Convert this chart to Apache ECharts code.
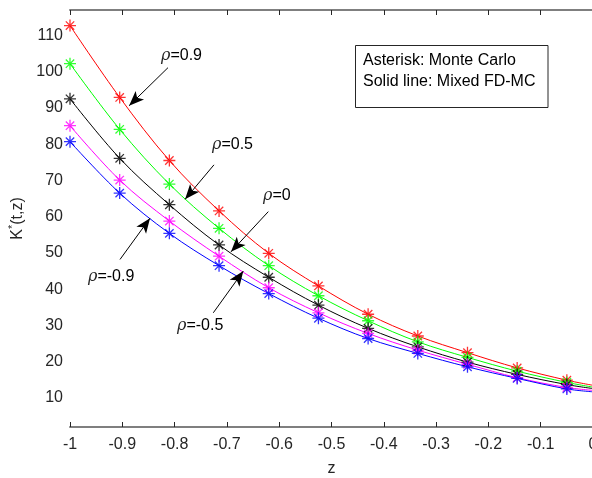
<!DOCTYPE html>
<html>
<head>
<meta charset="utf-8">
<script src="https://cdn.jsdelivr.net/npm/echarts@6/dist/echarts.min.js"></script>
<style>html,body{margin:0;padding:0;background:#fff;}#c{width:592px;height:478px;}</style>
</head>
<body>
<div id="c"></div>
<script>
// z positions of the Monte Carlo points
const zPts = [-1, -0.905, -0.81, -0.715, -0.62, -0.525, -0.43, -0.335, -0.24, -0.145, -0.05];
// values per rho (Monte Carlo asterisks)
const rho09 = [112.7, 92.9, 75.5, 61.6, 49.9, 40.9, 33.1, 27.1, 22.5, 18.3, 14.9];
const rho05 = [102.2, 84.1, 69.0, 56.8, 46.5, 38.2, 31.3, 25.5, 21.2, 17.4, 14.3];
const rho0 = [92.5, 76.1, 63.3, 52.2, 43.3, 35.6, 29.2, 24.1, 19.9, 16.5, 13.7];
const rhoM05 = [85.1, 70.1, 58.8, 49.1, 40.4, 33.5, 27.8, 23.2, 19.3, 15.6, 12.9];
const rhoM09 = [80.7, 66.5, 55.4, 46.5, 38.8, 32.0, 26.4, 22.3, 18.6, 15.4, 12.5];
// Mixed FD-MC line values at z = 0
const endZ = 0;
const endVals = [13.5, 13.0, 12.6, 12.1, 11.7];
const yTicks = [10, 20, 30, 40, 50, 60, 70, 80, 90, 100, 110];
const seriesNames = ['rho=0.9', 'rho=0.5', 'rho=0', 'rho=-0.5', 'rho=-0.9'];
const colors = ['#ff0000', '#00ff00', '#000000', '#ff00ff', '#0000ff'];
const allVals = [rho09, rho05, rho0, rhoM05, rhoM09];
// annotation arrows [tail, head] in data coordinates
const arrows = [
  [[-0.8126, 101.1], [-0.887, 90.6]],
  [[-0.7247, 74.3], [-0.780, 64.8]],
  [[-0.6208, 61.4], [-0.6922, 50.3]],
  [[-0.726, 33.5], [-0.6686, 45.0]],
  [[-0.9044, 48.2], [-0.847, 59.6]]
];
const arrowLabels = ['0.9', '0.5', '0', '-0.5', '-0.9'];

const FONT = 'Liberation Sans, Arial, sans-serif';
const TXT = '#262626';
const FS = 16;
const asterisk = 'path://M0 5 L10 5 M5 0 L5 10 M1.5 1.5 L8.5 8.5 M1.5 8.5 L8.5 1.5';

const series = [];
allVals.forEach((vals, i) => {
  const lineData = zPts.map((z, k) => [z, vals[k]]);
  lineData.push([endZ, endVals[i]]);
  series.push({
    type: 'line', name: seriesNames[i] + ' FD-MC', data: lineData, smooth: 0.35,
    showSymbol: false, lineStyle: {color: colors[i], width: 1}, silent: true, z: 2
  });
  series.push({
    type: 'scatter', name: seriesNames[i] + ' MC', data: zPts.map((z, k) => [z, vals[k]]),
    symbol: asterisk, symbolSize: 12,
    itemStyle: {color: 'transparent', borderColor: colors[i], borderWidth: 1.3}, silent: true, z: 3
  });
});
series.push({
  type: 'line', data: [], silent: true,
  markLine: {
    silent: true, symbol: ['none', 'arrow'], symbolSize: [9, 15],
    label: {show: false},
    lineStyle: {color: '#000', width: 1, type: 'solid'},
    data: arrows.map(a => [{coord: a[0]}, {coord: a[1]}])
  }
});

// label positions (pixel) for annotation texts
const labelPos = [[161, 57], [212, 146], [263, 197], [177, 327], [88, 278]];
const graphics = labelPos.map((p, i) => ({
  type: 'text', left: p[0], top: p[1] - 9,
  style: {
    text: '{r|ρ}=' + arrowLabels[i],
    rich: {r: {fontStyle: 'italic', fontSize: FS, fontFamily: 'DejaVu Serif, serif', fill: TXT}},
    font: FS + 'px ' + FONT, fill: '#000'
  }
}));
graphics.push({
  type: 'rect', shape: {x: 355.5, y: 45.5, width: 192.5, height: 62}, style: {fill: '#fff', stroke: '#262626', lineWidth: 1}, z: 10
});
graphics.push({type: 'text', left: 363, top: 53, z: 11, style: {text: 'Asterisk: Monte Carlo', font: FS + 'px ' + FONT, fill: '#000'}});
graphics.push({type: 'text', left: 363, top: 74, z: 11, style: {text: 'Solid line: Mixed FD-MC', font: FS + 'px ' + FONT, fill: '#000'}});

const option = {
  animation: false,
  backgroundColor: '#fff',
  grid: {left: 70, top: 10, right: -1, bottom: 51, outerBoundsMode: 'none', containLabel: false},
  xAxis: [{
    type: 'value', min: -1, max: 0, interval: 0.1,
    name: 'z', nameLocation: 'middle', nameGap: 34,
    nameTextStyle: {fontSize: FS, fontFamily: FONT, color: TXT},
    axisLine: {lineStyle: {color: '#7f7f7f', width: 2}},
    axisTick: {inside: true, length: 5, lineStyle: {color: '#262626'}},
    axisLabel: {fontSize: FS, fontFamily: FONT, color: TXT, margin: 10,
      formatter: v => String(Math.round(v * 10) / 10)},
    splitLine: {show: false}
  }, {
    type: 'value', position: 'top', min: -1, max: 0, interval: 0.1,
    axisLine: {lineStyle: {color: '#7f7f7f', width: 2}},
    axisTick: {inside: true, length: 5, lineStyle: {color: '#262626'}},
    axisLabel: {show: false}, splitLine: {show: false}
  }],
  yAxis: [{
    type: 'value', min: 2, max: 117,
    name: 'K{s|*}(t,z)', nameLocation: 'middle', nameGap: 40,
    nameTextStyle: {fontSize: FS, fontFamily: FONT, color: TXT,
      rich: {s: {fontSize: 11, fontFamily: FONT, color: TXT, padding: [0, 0, 8, 0]}}},
    axisLine: {lineStyle: {color: '#262626', width: 1}},
    axisTick: {inside: true, length: 5, customValues: yTicks, lineStyle: {color: '#262626'}},
    axisLabel: {fontSize: FS, fontFamily: FONT, color: TXT, margin: 7, customValues: yTicks},
    splitLine: {show: false}
  }, {
    type: 'value', position: 'right', min: 2, max: 117,
    axisLine: {show: true, lineStyle: {color: '#262626'}},
    axisTick: {show: false}, axisLabel: {show: false}, splitLine: {show: false}
  }],
  series: series,
  graphic: graphics
};
const chart = echarts.init(document.getElementById('c'), null, {renderer: 'canvas'});
chart.setOption(option);
</script>
</body>
</html>
